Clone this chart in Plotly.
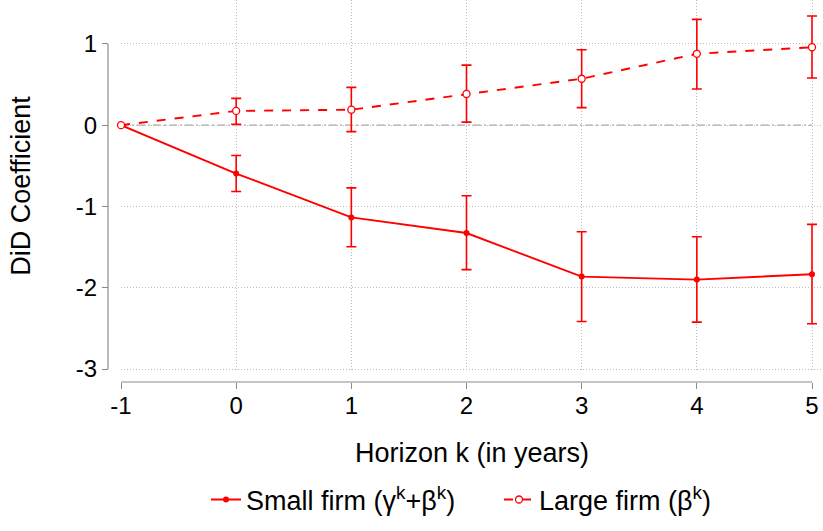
import plotly.graph_objects as go

horizon = [-1, 0, 1, 2, 3, 4, 5]
small_coef = [0.0, -0.595, -1.135, -1.327, -1.863, -1.90, -1.834]
small_hi = [0.0, -0.374, -0.771, -0.869, -1.311, -1.372, -1.221]
small_lo = [0.0, -0.816, -1.495, -1.777, -2.415, -2.423, -2.444]
large_coef = [0.0, 0.175, 0.19, 0.384, 0.571, 0.878, 0.959]
large_hi = [0.0, 0.33, 0.465, 0.739, 0.927, 1.302, 1.343]
large_lo = [0.0, 0.012, -0.08, 0.037, 0.216, 0.445, 0.58]
x_ticks = [-1, 0, 1, 2, 3, 4, 5]
x_ticklabels = ["-1", "0", "1", "2", "3", "4", "5"]
y_ticks = [-3, -2, -1, 0, 1]
y_ticklabels = ["-3", "-2", "-1", "0", "1"]

RED = "#ff0000"
AXC = "#8a8a8a"
FONT = "Liberation Sans, Arial, sans-serif"
TFS = 24   # tick font
LFS = 27   # titles / legend

def err(v, hi, lo):
    return dict(type="data", symmetric=False,
                array=[h - c for h, c in zip(hi, v)],
                arrayminus=[c - l for c, l in zip(v, lo)],
                color=RED, thickness=1.6, width=5)

fig = go.Figure()
fig.add_trace(go.Scatter(
    x=horizon, y=small_coef, mode="lines+markers", cliponaxis=False,
    name="Small firm (γ<sup>k</sup>+β<sup>k</sup>)",
    line=dict(color=RED, width=1.9),
    marker=dict(color=RED, size=6, symbol="circle"),
    error_y=err(small_coef, small_hi, small_lo)))
fig.add_trace(go.Scatter(
    x=horizon, y=large_coef, mode="lines+markers", cliponaxis=False,
    name="Large firm (β<sup>k</sup>)",
    line=dict(color=RED, width=1.9, dash="dash"),
    marker=dict(color="white", size=7, symbol="circle",
                line=dict(color=RED, width=1.3)),
    error_y=err(large_coef, large_hi, large_lo)))

L, R, T, B = 50, 0, 0, 100
W, H = 823, 531
pw = W - L - R
ph = H - T - B
x0 = (121 - L) / pw
yaxpos = (108 - L) / pw
ydom0 = (ph - 372) / ph
xaxpos = (ph - 382) / ph
xunit = (812 - 121) / 6.0
xmax = 5 + (823 - 812) / xunit
unit = 81.5
ytop = 1 + 44 / unit
ybot = -3 - 3 / unit

GRID = dict(showgrid=True, gridcolor="#bdbdbd", griddash="1px,2px", gridwidth=1)

fig.update_layout(
    width=W, height=H,
    margin=dict(l=L, r=R, t=T, b=B, autoexpand=False),
    paper_bgcolor="white", plot_bgcolor="white",
    font=dict(family=FONT, size=LFS, color="black"),
    showlegend=True,
    legend=dict(orientation="h", x=(206 - L) / pw, xanchor="left", y=-0.16, yanchor="middle",
                font=dict(size=LFS), tracegroupgap=0,
                entrywidth=248, entrywidthmode="pixels"),
    xaxis=dict(domain=[x0, 1], range=[-1, xmax], anchor="free", position=xaxpos,
               tickvals=x_ticks, ticktext=x_ticklabels,
               showline=False, automargin=False,
               ticks="outside", ticklen=6, tickcolor=AXC, tickwidth=1.2,
               ticklabelstandoff=-4,
               zeroline=False, tickfont=dict(size=TFS),
               title=dict(text="Horizon k (in years)", font=dict(size=LFS), standoff=25),
               **GRID),
    yaxis=dict(domain=[ydom0, 1], range=[ybot, ytop], anchor="free", position=yaxpos,
               tickvals=y_ticks, ticktext=y_ticklabels,
               showline=False, automargin=False,
               ticks="outside", ticklen=6, tickcolor=AXC, tickwidth=1.2,
               zeroline=False, tickfont=dict(size=TFS),
               title=dict(text="DiD Coefficient", font=dict(size=LFS), standoff=36),
               **GRID),
)

fig.add_shape(type="line", xref="x", yref="y", x0=-1, x1=5, y0=0, y1=0,
              line=dict(color="#a8a8a8", width=1.2, dash="8px,3px,2px,3px"), layer="below")
fig.add_shape(type="line", xref="paper", yref="y", x0=yaxpos, x1=yaxpos,
              y0=-3, y1=1, line=dict(color=AXC, width=1.2))
fig.add_shape(type="line", xref="x", yref="paper", x0=-1, x1=5, y0=xaxpos, y1=xaxpos,
              line=dict(color=AXC, width=1.2))

fig.write_html("out.html")
